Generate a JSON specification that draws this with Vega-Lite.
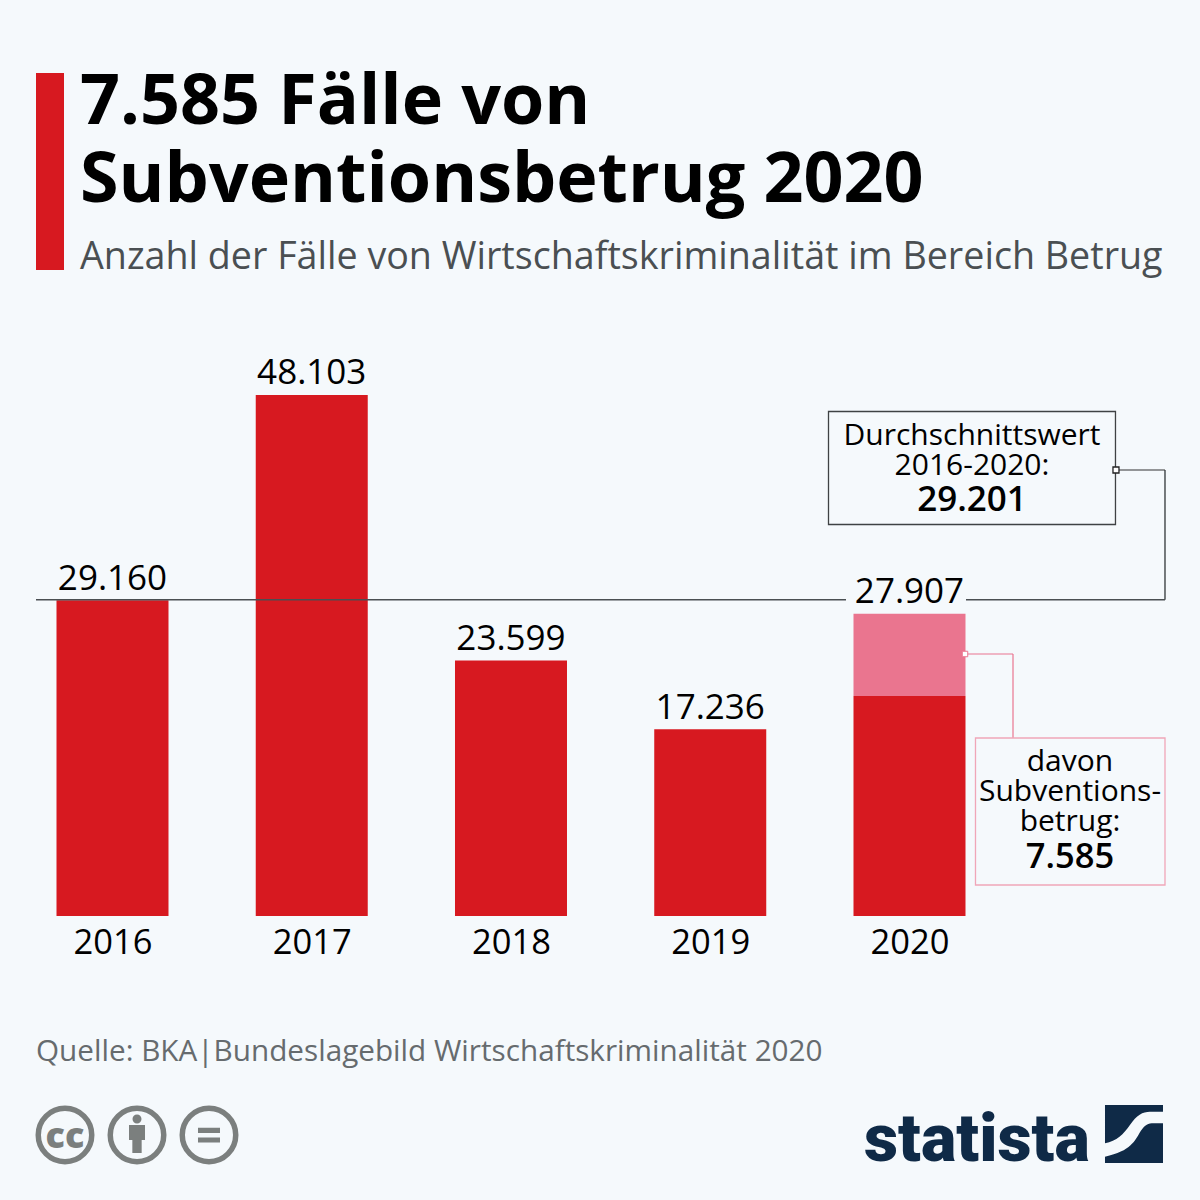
{
"$schema":"https://vega.github.io/schema/vega-lite/v6.json",
"width":1200,"height":616,
"autosize":{"type":"none"},
"padding":{"left":0,"top":300,"right":0,"bottom":284},
"background":"#f5f9fc",
"config":{"view":{"stroke":null},"font":"Open Sans"},
"title":{"text":["7.585 Fälle von","Subventionsbetrug 2020"],"subtitle":"Anzahl der Fälle von Wirtschaftskriminalität im Bereich Betrug","anchor":"start","frame":"group","dx":80,"offset":-205,"font":"Open Sans","fontSize":70,"fontWeight":700,"color":"#000000","lineHeight":78,"subtitleFont":"Open Sans","subtitleFontSize":37.65,"subtitleFontWeight":400,"subtitleColor":"#4a4f52","subtitlePadding":22},
"layer":[
{"data":{"values":[
{"year":2016,"part":"Sonstiger Betrug","value":29160},
{"year":2017,"part":"Sonstiger Betrug","value":48103},
{"year":2018,"part":"Sonstiger Betrug","value":23599},
{"year":2019,"part":"Sonstiger Betrug","value":17236},
{"year":2020,"part":"Sonstiger Betrug","value":20322},
{"year":2020,"part":"Subventionsbetrug","value":7585}]},
"mark":{"type":"bar","size":112},
"encoding":{
"x":{"field":"year","type":"quantitative","scale":{"domain":[2015.4354,2021.458],"nice":false,"zero":false,"padding":0},"axis":{"values":[2016,2017,2018,2019,2020],"format":"d","domain":false,"ticks":false,"grid":false,"title":null,"labelFont":"Open Sans","labelFontSize":34.5,"labelColor":"#000000","labelPadding":10,"labelOverlap":false,"labelBound":false,"labelFlush":false}},
"y":{"field":"value","type":"quantitative","stack":"zero","scale":{"domain":[0,56874],"nice":false,"padding":0},"axis":null},
"color":{"field":"part","type":"nominal","scale":{"domain":["Sonstiger Betrug","Subventionsbetrug"],"range":["#d71920","#ea758f"]},"legend":null},
"order":{"field":"part","type":"nominal"}}},
{"data":{"values":[{"year":2016,"total":29160,"label":"29.160"},{"year":2017,"total":48103,"label":"48.103"},{"year":2018,"total":23599,"label":"23.599"},{"year":2019,"total":17236,"label":"17.236"},{"year":2020,"total":27907,"label":"27.907"}]},
"mark":{"type":"text","font":"Open Sans","fontSize":35,"color":"#000000","baseline":"alphabetic","align":"center","dy":-10.5},
"encoding":{"x":{"field":"year","type":"quantitative"},"y":{"field":"total","type":"quantitative"},"text":{"field":"label"}}},
{"data":{"values":[{"name":"Akzent"}]},"mark":{"type":"rect","color":"#d71920"},
"encoding":{"x":{"datum":2015.6161,"type":"quantitative"},"x2":{"datum":2015.7566},"y":{"datum":77833,"type":"quantitative"},"y2":{"datum":59645}}},
{"data":{"values":[{"mean":29201}]},"mark":{"type":"rule","color":"#4a4f52","strokeWidth":1.5},
"encoding":{"x":{"datum":2015.6161,"type":"quantitative"},"x2":{"datum":2019.6813},"y":{"field":"mean","type":"quantitative"}}},
{"data":{"values":[{"mean":29201}]},"mark":{"type":"rule","color":"#4a4f52","strokeWidth":1.5},
"encoding":{"x":{"datum":2020.2836,"type":"quantitative"},"x2":{"datum":2021.2823},"y":{"field":"mean","type":"quantitative"}}},
{"data":{"values":[{"mean":29201}]},"mark":{"type":"rule","color":"#4a4f52","strokeWidth":1.5},
"encoding":{"x":{"datum":2021.2823,"type":"quantitative"},"y":{"field":"mean","type":"quantitative"},"y2":{"datum":41179}}},
{"data":{"values":[{"mean":29201}]},"mark":{"type":"rule","color":"#333333","strokeWidth":1.2},
"encoding":{"x":{"datum":2021.0363,"type":"quantitative"},"x2":{"datum":2021.2823},"y":{"datum":41179,"type":"quantitative"}}},
{"data":{"values":[{"name":"Kasten"}]},"mark":{"type":"rect","fill":"#f5f9fc","stroke":"#3f4244","strokeWidth":1.3},
"encoding":{"x":{"datum":2019.5935,"type":"quantitative"},"x2":{"datum":2021.0338},"y":{"datum":46580,"type":"quantitative"},"y2":{"datum":36147}}},
{"data":{"values":[{"name":"Punkt"}]},"mark":{"type":"point","shape":"square","size":36,"filled":true,"fill":"#ffffff","stroke":"#222222","strokeWidth":1.3,"opacity":1},
"encoding":{"x":{"datum":2021.0363,"type":"quantitative"},"y":{"datum":41179,"type":"quantitative"}}},
{"data":{"values":[{"t":"Durchschnittswert"}]},"mark":{"type":"text","fontSize":30,"color":"#000000","baseline":"alphabetic"},
"encoding":{"x":{"datum":2020.3137,"type":"quantitative"},"y":{"datum":43487,"type":"quantitative"},"text":{"field":"t"}}},
{"data":{"values":[{"t":"2016-2020:"}]},"mark":{"type":"text","fontSize":30,"color":"#000000","baseline":"alphabetic"},
"encoding":{"x":{"datum":2020.3137,"type":"quantitative"},"y":{"datum":40717,"type":"quantitative"},"text":{"field":"t"}}},
{"data":{"values":[{"t":"29.201"}]},"mark":{"type":"text","fontSize":35,"fontWeight":600,"color":"#000000","baseline":"alphabetic"},
"encoding":{"x":{"datum":2020.3137,"type":"quantitative"},"y":{"datum":37393,"type":"quantitative"},"text":{"field":"t"}}},
{"data":{"values":[{"share":7585}]},"mark":{"type":"rule","color":"#ea758f","strokeWidth":1.2},
"encoding":{"x":{"datum":2020.2786,"type":"quantitative"},"x2":{"datum":2020.5195},"y":{"datum":24190,"type":"quantitative"}}},
{"data":{"values":[{"share":7585}]},"mark":{"type":"rule","color":"#ea758f","strokeWidth":1.2},
"encoding":{"x":{"datum":2020.5195,"type":"quantitative"},"y":{"datum":24190,"type":"quantitative"},"y2":{"datum":16435}}},
{"data":{"values":[{"name":"Kasten"}]},"mark":{"type":"rect","fill":"#f5f9fc","stroke":"#f0a6b8","strokeWidth":1.3},
"encoding":{"x":{"datum":2020.3312,"type":"quantitative"},"x2":{"datum":2021.2823},"y":{"datum":16435,"type":"quantitative"},"y2":{"datum":2862}}},
{"data":{"values":[{"name":"Punkt"}]},"mark":{"type":"point","shape":"square","size":30,"filled":true,"fill":"#ffffff","stroke":"#ea758f","strokeWidth":1,"opacity":1},
"encoding":{"x":{"datum":2020.2786,"type":"quantitative"},"y":{"datum":24190,"type":"quantitative"}}},
{"data":{"values":[{"t":"davon"}]},"mark":{"type":"text","fontSize":30,"color":"#000000","baseline":"alphabetic"},
"encoding":{"x":{"datum":2020.8055,"type":"quantitative"},"y":{"datum":13388,"type":"quantitative"},"text":{"field":"t"}}},
{"data":{"values":[{"t":"Subventions-"}]},"mark":{"type":"text","fontSize":30,"color":"#000000","baseline":"alphabetic"},
"encoding":{"x":{"datum":2020.8055,"type":"quantitative"},"y":{"datum":10618,"type":"quantitative"},"text":{"field":"t"}}},
{"data":{"values":[{"t":"betrug:"}]},"mark":{"type":"text","fontSize":30,"color":"#000000","baseline":"alphabetic"},
"encoding":{"x":{"datum":2020.8055,"type":"quantitative"},"y":{"datum":7848,"type":"quantitative"},"text":{"field":"t"}}},
{"data":{"values":[{"t":"7.585"}]},"mark":{"type":"text","fontSize":34.5,"fontWeight":600,"color":"#000000","baseline":"alphabetic"},
"encoding":{"x":{"datum":2020.8055,"type":"quantitative"},"y":{"datum":4432,"type":"quantitative"},"text":{"field":"t"}}},
{"data":{"values":[{"t":"Quelle: BKA|Bundeslagebild Wirtschaftskriminalität 2020"}]},"mark":{"type":"text","fontSize":29.7,"color":"#666b6e","align":"left","baseline":"alphabetic"},
"encoding":{"x":{"datum":2015.6161,"type":"quantitative"},"y":{"datum":-13388,"type":"quantitative"},"text":{"field":"t"}}},
{"data":{"values":[{"icon":"cc"}]},"mark":{"type":"point","shape":"circle","size":2862,"filled":false,"stroke":"#7b7f7e","strokeWidth":5.5,"opacity":1},
"encoding":{"x":{"datum":2015.7616,"type":"quantitative"},"y":{"datum":-20220,"type":"quantitative"}}},
{"data":{"values":[{"icon":"by"}]},"mark":{"type":"point","shape":"circle","size":2862,"filled":false,"stroke":"#7b7f7e","strokeWidth":5.5,"opacity":1},
"encoding":{"x":{"datum":2016.123,"type":"quantitative"},"y":{"datum":-20220,"type":"quantitative"}}},
{"data":{"values":[{"icon":"nd"}]},"mark":{"type":"point","shape":"circle","size":2862,"filled":false,"stroke":"#7b7f7e","strokeWidth":5.5,"opacity":1},
"encoding":{"x":{"datum":2016.4843,"type":"quantitative"},"y":{"datum":-20220,"type":"quantitative"}}},
{"data":{"values":[{"t":"cc"}]},"mark":{"type":"text","font":"Open Sans","fontSize":36,"fontWeight":800,"color":"#7b7f7e","baseline":"middle"},
"encoding":{"x":{"datum":2015.7616,"type":"quantitative"},"y":{"datum":-20420,"type":"quantitative"},"text":{"field":"t"}}},
{"data":{"values":[{"icon":"by"}]},"mark":{"type":"point","shape":"M-0.4,-0.5 L0.4,-0.5 L0.4,0.25 L0.233,0.25 L0.233,0.9 L-0.233,0.9 L-0.233,0.25 L-0.4,0.25 Z M-0.225,-0.8 A0.225,0.225 0 1 0 0.225,-0.8 A0.225,0.225 0 1 0 -0.225,-0.8 Z","size":1600,"filled":true,"fill":"#7b7f7e","strokeWidth":0,"opacity":1},
"encoding":{"x":{"datum":2016.123,"type":"quantitative"},"y":{"datum":-20220,"type":"quantitative"}}},
{"data":{"values":[{"icon":"nd"}]},"mark":{"type":"point","shape":"M-0.55,-0.36 L0.55,-0.36 L0.55,-0.1 L-0.55,-0.1 Z M-0.55,0.12 L0.55,0.12 L0.55,0.38 L-0.55,0.38 Z","size":1600,"filled":true,"fill":"#7b7f7e","strokeWidth":0,"opacity":1},
"encoding":{"x":{"datum":2016.4843,"type":"quantitative"},"y":{"datum":-20220,"type":"quantitative"}}},
{"data":{"values":[{"t":"statista"}]},"mark":{"type":"text","font":"Roboto","fontSize":66.5,"fontWeight":900,"color":"#0f2a47","align":"left","baseline":"alphabetic"},
"encoding":{"x":{"datum":2019.7717,"type":"quantitative"},"y":{"datum":-22621,"type":"quantitative"},"text":{"field":"t"}}},
{"data":{"values":[{"icon":"statista"}]},"mark":{"type":"point","shape":"M-1,-1 L1,-1 L1,-0.77 L0.55,-0.77 C0.3,-0.77 0.09,-0.65 -0.14,-0.31 C-0.35,0 -0.6,0.25 -1,0.32 Z M1,-0.37 L0.61,-0.37 C0.45,-0.37 0.32,-0.25 0.2,-0.05 C0.05,0.2 -0.1,0.6 -1,0.78 L-1,1 L1,1 Z","size":3364,"filled":true,"fill":"#0f2a47","strokeWidth":0,"opacity":1},
"encoding":{"x":{"datum":2021.1267,"type":"quantitative"},"y":{"datum":-20128,"type":"quantitative"}}}
]
}
